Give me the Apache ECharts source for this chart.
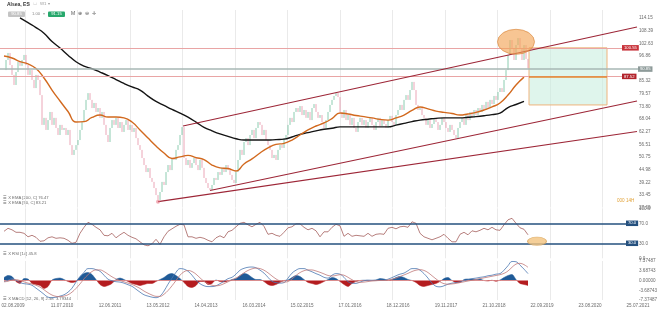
<!DOCTYPE html>
<html><head><meta charset="utf-8">
<script src="https://cdn.jsdelivr.net/npm/echarts@6/dist/echarts.min.js"></script>
<style>html,body{margin:0;padding:0;background:#fff}#c{width:660px;height:311px}</style>
</head><body><div id="c"></div>
<script>
// ---------- data ----------
const weekCount = 639;               // weekly categories starting 03.05.2009
const xTickLabels = ['02.08.2009','11.07.2010','12.06.2011','13.05.2012','14.04.2013','16.03.2014','15.02.2015','17.01.2016','18.12.2016','19.11.2017','21.10.2018','22.09.2019','23.08.2020','25.07.2021'];
const priceTickLabels = ['27.69','33.45','39.22','44.98','50.75','56.51','62.27','68.04','73.80','79.57','85.32','','96.86','102.63','108.39','114.15'];
const rsiTickLabels = {0:'0.0',30:'30.0',70:'70.0',100:'100.0'};
const macdTickLabels = ['-7.37487','-3.68743','0.00000','3.68743','7.37487'];
const verticalGridWeeks = [25,77,130,182,235,287,340,392,445,497,550,602];

const priceStart = 4, priceStep = 2;
const closes = [
 90.4,95.0,98.2,92.7,88.2,83.6,89.5,94.1,92.3,95.0,
 97.3,92.7,88.2,90.4,85.9,82.2,88.2,85.9,79.0,65.4,
 68.6,63.1,67.6,71.3,65.4,68.6,64.0,60.8,65.4,63.1,
 64.0,60.8,63.1,56.2,51.7,54.0,56.2,58.5,63.1,66.7,
 72.2,76.8,79.9,76.8,73.1,75.4,71.3,73.1,68.6,71.3,
 65.4,60.8,57.6,64.0,67.6,65.4,68.6,64.0,66.7,62.2,
 65.4,67.6,63.1,65.4,62.2,64.0,59.4,56.2,54.0,50.3,
 47.1,43.9,45.7,41.2,39.4,36.6,33.4,31.2,34.8,39.4,
 38.0,43.9,47.1,44.8,50.3,49.4,54.0,56.2,60.8,64.4,
 50.3,47.1,49.4,45.8,48.0,50.3,47.1,44.8,49.4,45.8,
 41.2,38.9,36.6,35.7,38.0,41.2,40.3,43.9,42.6,45.8,
 43.9,47.1,44.8,42.6,40.3,38.9,43.9,49.4,54.0,51.7,
 57.6,59.4,56.2,60.8,63.1,59.4,64.0,66.7,65.4,60.8,
 63.1,58.5,56.2,54.0,50.3,51.7,49.4,54.0,56.2,54.9,
 59.4,60.8,65.4,68.6,66.7,71.3,73.1,71.3,74.0,69.9,
 72.2,68.6,71.3,67.6,73.1,74.9,71.3,68.6,69.9,66.7,
 64.0,67.6,71.3,74.5,76.8,78.6,79.9,78.1,71.3,68.6,
 72.2,67.6,69.9,65.4,68.6,64.0,62.2,66.7,68.6,65.4,
 67.6,64.0,66.7,68.6,65.4,63.1,66.7,68.6,64.9,67.6,
 65.8,64.0,67.6,69.5,66.7,65.4,69.9,72.2,74.5,72.2,
 76.8,79.0,76.8,81.3,85.0,81.3,74.5,72.2,73.1,69.9,
 68.6,65.4,67.6,64.0,65.8,68.6,66.7,63.1,65.4,68.6,
 66.7,64.0,62.2,65.4,63.1,60.8,59.4,64.0,66.7,68.6,
 65.4,69.9,67.6,71.3,68.6,72.2,69.9,73.1,71.3,74.5,
 72.2,75.9,73.1,76.8,74.9,78.6,76.8,80.4,82.2,80.4,
 85.9,90.4,97.3,104.1,100.5,95.0,101.8,105.0,100.5,95.0,
 101.8,95.5,91.2];

const ema50Start = 4, ema50Step = 8;
const ema50 = [96.8,95.9,94.3,93.2,91.1,86.8,81.3,76.3,71.5,66.7,66.9,68.8,69.9,69.0,69.0,68.6,66.7,63.1,59.4,55.8,52.6,50.1,50.8,51.5,50.5,49.6,47.1,45.8,45.5,44.4,47.6,49.9,52.6,54.9,56.5,57.0,58.5,60.8,63.1,64.9,66.3,68.3,70.8,70.4,69.7,69.2,68.6,67.9,67.6,68.6,69.9,72.0,73.6,72.7,71.7,71.1,70.6,69.9,70.4,71.1,72.2,73.6,75.4,79.0,83.6,87.2];
const ema200Start = 20, ema200Step = 8;
const ema200 = [114.2,112.0,109.8,107.2,103.4,100.5,97.2,94.2,92.2,91.0,89.5,87.9,86.1,84.3,82.7,81.3,78.5,76.1,74.3,72.5,70.8,68.9,66.7,64.3,62.7,61.3,60.2,59.1,58.5,58.5,58.5,58.5,58.7,58.9,59.9,61.1,61.9,62.7,63.4,63.9,64.5,64.5,64.5,64.5,64.5,64.5,64.5,65.3,66.1,66.9,67.6,68.0,68.4,68.6,68.6,68.6,68.9,69.2,69.6,70.1,70.8,73.3,74.7,76.1];

const oscStart = 4, oscStep = 4;
const rsi = [54,60,57,52,52,50,43,46,42,34, 35,41,43,40,41,40,36,30,32,50, 62,72,68,62,57,46,45,50,41,47, 52,46,42,39,33,27,25,29,38,28,
 43,54,59,64,68,67,43,43,40,42, 40,36,33,41,45,41,53,56,63,70, 72,67,63,68,72,64,48,50,46,44, 52,61,63,69,69,62,57,60,55,43,
 53,53,62,68,65,44,50,44,46,45, 44,50,44,48,49,48,60,62,59,63, 64,62,73,70,50,43,40,37,40,43, 48,40,33,33,48,52,47,55,53,56,
 60,57,62,57,56,67,77,80,70,61, 58,47];
const macd = [-0.45,0.1,0.7,0.1,-0.8,-1.2,-1.4,-1.8,-2.9,-4.0, -5.2,-6.3,-6.5,-6.3,-5.9,-5.4,-4.4,-2.9,-0.6,1.4, 3.1,4.5,4.5,4.1,3.5,2.0,0.5,-0.1,-0.45,-0.6,
 -1.0,-1.6,-2.2,-3.3,-4.4,-5.4,-5.9,-6.3,-6.5,-5.9, -4.0,-1.4,0.9,3.1,4.5,4.3,3.5,2.0,0.1,-1.2, -2.0,-2.3,-2.3,-2.0,-1.2,-0.3,0.7,1.2,2.4,3.9,
 4.6,5.0,5.1,4.8,3.9,2.8,1.2,-0.3,-0.8,-1.0, -0.8,0.9,2.8,3.9,4.5,4.5,3.9,3.3,2.6,2.0, 1.2,0.9,2.0,2.6,2.4,1.2,-0.45,-1.0,-1.1,-0.6,
 -0.1,0.1,0.1,0.1,0.1,0.1,0.5,1.1,1.8,2.4, 2.8,3.7,4.5,4.5,3.9,2.6,0.9,-1.0,-2.2,-2.4, -2.0,-1.4,-1.0,-0.8,-0.5,-0.1,0.3,0.7,0.9,1.2,
 1.4,1.8,2.0,2.4,2.6,3.9,5.6,7.2,7.1,5.8, 4.3,2.6];
const signal = [-0.5,-0.3,0.2,0.3,0,-0.5,-1.0,-1.3,-1.8,-2.5, -3.5,-4.6,-5.5,-6.0,-6.1,-5.9,-5.4,-4.4,-3.0,-1.3, 0.6,2.2,3.4,4.0,4.0,3.4,2.4,1.4,0.6,0.0,
 -0.5,-1.0,-1.5,-2.2,-3.0,-4.0,-4.8,-5.5,-6.0,-6.0, -5.2,-3.8,-2.0,0.0,2.0,3.3,3.8,3.4,2.4,1.0, -0.3,-1.2,-1.8,-2.0,-1.8,-1.2,-0.5,0.2,0.9,1.8,
 2.9,3.8,4.4,4.7,4.5,3.9,2.9,1.7,0.6,-0.2, -0.6,-0.4,0.6,1.9,3.0,3.7,4.0,4.0,3.6,3.1, 2.5,1.9,1.7,1.9,2.2,2.0,1.2,0.3,-0.4,-0.7,
 -0.6,-0.4,-0.2,-0.1,0.0,0.0,0.2,0.5,0.9,1.5, 2.1,2.7,3.4,3.9,4.1,3.8,3.0,1.8,0.6,-0.5, -1.2,-1.4,-1.3,-1.1,-0.8,-0.5,-0.2,0.1,0.4,0.7,
 1.0,1.3,1.6,1.9,2.2,2.7,3.6,5.0,6.2,6.5, 6.0,5.0];
const hist = [1.13,1.89,1.51,-0.38,-1.13,0.75,0.57,-1.13,-1.51,-1.89, -3.02,-2.26,0.19,0.75,0.94,0.38,-0.38,-0.75,-0.38,1.51, 2.64,3.02,2.26,0.38,-1.51,-2.26,-1.89,-1.13,0.38,0.94,
 0.38,-0.38,-1.13,-1.51,-1.89,-1.51,-1.13,-1.13,-0.38,0.38, 1.13,2.26,2.64,1.89,0.75,-0.75,-2.26,-2.64,-1.89,-0.38, -0.38,-1.51,-1.13,0.19,-0.38,-0.57,-0.19,0.38,0.75,1.89,
 2.64,2.26,1.13,0.38,0.38,-0.38,-1.51,-1.89,-1.51,-0.75, 0.0,0.19,1.13,1.89,1.51,0.38,-0.75,-1.13,-1.51,-1.13, -0.38,0.38,1.13,0.75,-0.38,-1.51,-2.26,-1.13,-0.38,0.0,
 0.11,0.08,0.0,0.19,0.75,0.57,0.11,0.38,1.13,1.51, 1.13,0.38,0.0,-0.75,-1.89,-2.26,-1.89,-1.51,-1.13,-0.38, 0.75,1.13,0.0,-0.75,-0.75,0.38,0.57,0.57,0.38,0.57,
 0.0,-0.19,0.11,-0.3,0.19,1.13,1.89,2.26,0.38,-1.13, -1.51,-1.89];

const levels = [
  {value:100.55, end:622, line:'#e9a5a5', box:'#c8323a', width:1},
  {value:90.85,  end:638, line:'#a7b7b4', box:'#8e9b9a', width:1.6},
  {value:87.52,  end:622, line:'#e9a5a5', box:'#b3232c', width:1}
];
const targetBox = {from:529, to:607, top:100.55, bottom:74.5, entry:87.52};
const trendLines = [ [[183,64.9],[637,110.05]], [[210,35.5],[637,76.3]], [[158,30.4],[637,62.4]] ];
const lowPoint = [158, 30.4];
const priceHighlight = [516, 103.3];
const rsiLevels = [70, 30];
const rsiHighlight = [537, 34];

// ---------- build ----------
function fmtDate(d){return String(d.getUTCDate()).padStart(2,'0')+'.'+String(d.getUTCMonth()+1).padStart(2,'0')+'.'+d.getUTCFullYear();}
const t0 = Date.UTC(2009,4,3);
const cats = [];
for (let i=0;i<weekCount;i++) cats.push(fmtDate(new Date(t0+i*7*86400000)));

const candle = cats.map(()=> '-');
closes.forEach((c,k)=>{const o = k ? closes[k-1] : c; candle[priceStart+k*priceStep] = [o,c,Math.min(o,c),Math.max(o,c)];});
const pairs = (arr,start,step)=>arr.map((v,k)=>[start+k*step, v]);

const F = 'Liberation Sans, Arial, sans-serif';
const LBL = {fontSize:4.6, color:'#6b6b6b', fontFamily:F};

function xAxis(gi, show){
  return {type:'category', gridIndex:gi, data:cats, boundaryGap:false,
    axisLine:{show:false}, axisTick:{show:false},
    axisLabel:Object.assign({show:show, interval:(i,v)=>xTickLabels.includes(v), margin:3}, LBL),
    splitLine:{show:true, interval:(i)=>verticalGridWeeks.includes(i), lineStyle:{color:'#e4e4e4', width:0.8}}};
}
const pMin = 27.69, pInt = 5.764;
const mMin = -7.37487, mInt = 3.687435;

const lvlLines = levels.map(l=>[
  {coord:[0,l.value], lineStyle:{color:l.line, width:l.width, type:'solid'},
   label:{show:true, position:'end', distance:0, formatter:l.value.toFixed(2), color:'#fff', backgroundColor:l.box, padding:[1,2,0.5,2], fontSize:4.2, fontFamily:F}},
  {coord:[l.end,l.value]}]);
lvlLines.push([{coord:[targetBox.from,targetBox.entry], lineStyle:{color:'#e3892f', width:1.5, type:'solid'}, label:{show:false}},{coord:[targetBox.to,targetBox.entry]}]);

const trendData = trendLines.map(t=>[{coord:t[0], lineStyle:{color:'#9d2637', width:1.2, type:'solid'}, label:{show:false}},{coord:t[1]}]);

const rsiLines = rsiLevels.map(v=>[
  {coord:[0,v], lineStyle:{color:'#24507e', width:1.6, type:'solid'},
   label:{show:true, position:'end', distance:0, formatter:v.toFixed(1), color:'#fff', backgroundColor:'#24507e', padding:[1,2,0.5,2], fontSize:4.2, fontFamily:F}},
  {coord:[626,v]}]);

function txt(x,y,text,opt){return Object.assign({type:'text', left:x, top:y, silent:true, style:Object.assign({text:text, fontSize:4.6, fontFamily:F, fill:'#6b6b6b'}, opt||{})});}
function box(x,y,w,h,fill,text){return {type:'group', left:x, top:y, children:[
  {type:'rect', shape:{x:0,y:0,width:w,height:h,r:1}, style:{fill:fill}},
  {type:'text', x:w/2, y:h/2, style:{text:text, fill:'#fff', fontSize:4.2, fontFamily:F, align:'center', verticalAlign:'middle'}}]};}

const option = {
  animation:false,
  backgroundColor:'#fff',
  grid:[
    {left:0, right:22, top:10, height:197.6, outerBoundsMode:'none', containLabel:false},
    {left:0, right:22, top:208.3, height:50, outerBoundsMode:'none', containLabel:false},
    {left:0, right:22, top:261, height:39, outerBoundsMode:'none', containLabel:false}
  ],
  xAxis:[xAxis(0,false), xAxis(1,false), xAxis(2,true)],
  yAxis:[
    {type:'value', gridIndex:0, position:'right', min:pMin, max:117.8, interval:pInt, scale:false,
     axisLine:{show:false}, axisTick:{show:false}, splitLine:{show:false},
     axisLabel:Object.assign({margin:1, formatter:v=>{const k=(v-pMin)/pInt, r=Math.round(k); return (Math.abs(k-r)<0.02 && priceTickLabels[r]!==undefined)?priceTickLabels[r]:'';}}, LBL)},
    {type:'value', gridIndex:1, position:'right', min:0, max:100, interval:10,
     axisLine:{show:false}, axisTick:{show:false}, splitLine:{show:false},
     axisLabel:Object.assign({margin:1, formatter:v=>rsiTickLabels[Math.round(v)]||''}, LBL)},
    {type:'value', gridIndex:2, position:'right', min:mMin, max:-mMin, interval:mInt,
     axisLine:{show:false}, axisTick:{show:false}, splitLine:{show:false},
     axisLabel:Object.assign({margin:1, formatter:v=>macdTickLabels[Math.round((v-mMin)/mInt)]||''}, LBL)}
  ],
  visualMap:[{type:'piecewise', show:false, seriesIndex:7, dimension:1,
    pieces:[{gt:0, lte:10, color:'#1f5a97'},{gte:-10, lte:0, color:'#b41c1f'}]}],
  series:[
    {name:'price', type:'candlestick', xAxisIndex:0, yAxisIndex:0, data:candle, barWidth:1.5,
     itemStyle:{color:'#6fbf9c', color0:'#e690a4', borderColor:'#6fbf9c', borderColor0:'#e690a4', borderWidth:0.8},
     markArea:{silent:true, itemStyle:{color:'rgba(196,236,220,0.55)', borderColor:'#efb37c', borderWidth:1},
       data:[[{coord:[targetBox.from,targetBox.top]},{coord:[targetBox.to,targetBox.bottom]}]]},
     markLine:{silent:true, symbol:'none', animation:false, data:lvlLines}, z:3},
    {name:'EMA200', type:'line', xAxisIndex:0, yAxisIndex:0, data:pairs(ema200,ema200Start,ema200Step), smooth:0.5, symbol:'none',
     lineStyle:{color:'#141414', width:1.4}, z:4,
     markLine:{silent:true, symbol:'none', animation:false, data:trendData}},
    {name:'EMA50', type:'line', xAxisIndex:0, yAxisIndex:0, data:pairs(ema50,ema50Start,ema50Step), smooth:0.5, symbol:'none',
     lineStyle:{color:'#d2691e', width:1.4}, z:4},
    {name:'highlight', type:'scatter', xAxisIndex:0, yAxisIndex:0, data:[priceHighlight], symbol:'circle', symbolSize:[37,25],
     itemStyle:{color:'rgba(243,165,86,0.8)', borderColor:'#d8873d', borderWidth:0.8}, z:6, silent:true},
    {name:'low', type:'scatter', xAxisIndex:0, yAxisIndex:0, data:[lowPoint], symbolSize:4,
     itemStyle:{color:'rgba(232,120,135,0.75)'}, z:6, silent:true},
    {name:'RSI', type:'line', xAxisIndex:1, yAxisIndex:1, data:pairs(rsi,oscStart,oscStep), symbol:'none',
     lineStyle:{color:'#a5605d', width:0.8},
     markLine:{silent:true, symbol:'none', animation:false, data:rsiLines}},
    {name:'rsiHighlight', type:'scatter', xAxisIndex:1, yAxisIndex:1, data:[rsiHighlight], symbolSize:[19,8.5],
     itemStyle:{color:'#f3c37e', borderColor:'#d7a25a', borderWidth:0.7}, z:6, silent:true},
    {name:'hist', type:'line', xAxisIndex:2, yAxisIndex:2, data:pairs(hist,oscStart,oscStep), symbol:'none', smooth:0.3,
     lineStyle:{width:0.5}, areaStyle:{opacity:1, origin:0}},
    {name:'MACD', type:'line', xAxisIndex:2, yAxisIndex:2, data:pairs(macd,oscStart,oscStep), symbol:'none', smooth:0.4,
     lineStyle:{color:'#4c78b3', width:0.8}, z:4},
    {name:'signal', type:'line', xAxisIndex:2, yAxisIndex:2, data:pairs(signal,oscStart,oscStep), symbol:'none', smooth:0.4,
     lineStyle:{color:'#c07a7a', width:0.8}, z:4}
  ],
  graphic:[
    txt(7,2,'Alsea, ES',{fill:'#333', fontWeight:'bold', fontSize:5}),
    txt(26,2,'\u22EF   \u25A1   W1 \u25BE',{fill:'#9a9a9a', fontSize:4.4}),
    box(8,11.5,17,5.5,'#c4c4c4','90.85'),
    txt(32,12,'1.00',{fill:'#8a8a8a', fontSize:4.2}),
    txt(43,12,'\u25BE',{fill:'#aaa', fontSize:4.2}),
    box(48,11.5,17,5.5,'#27a86c','91.15'),
    txt(71,11.5,'M  \u2295  \u2296  \u271B',{fill:'#555', fontSize:5}),
    txt(3,196,'\u2630 X EMA [200, C] 76.47',{fontSize:4.2}),
    txt(3,201,'\u2630 X EMA [50, C] 83.21',{fontSize:4.2}),
    txt(617,198,'000 14H',{fill:'#e2a33a', fontSize:4.6}),
    txt(3,252,'\u2630 X RSI [14] 45.8',{fontSize:4.2}),
    txt(3,297,'\u2630 X MACD [12, 26, 9] 2.58  3.79344',{fontSize:4.2})
  ]
};
const chart = echarts.init(document.getElementById('c'), null, {renderer:'canvas'});
chart.setOption(option);
</script></body></html>
